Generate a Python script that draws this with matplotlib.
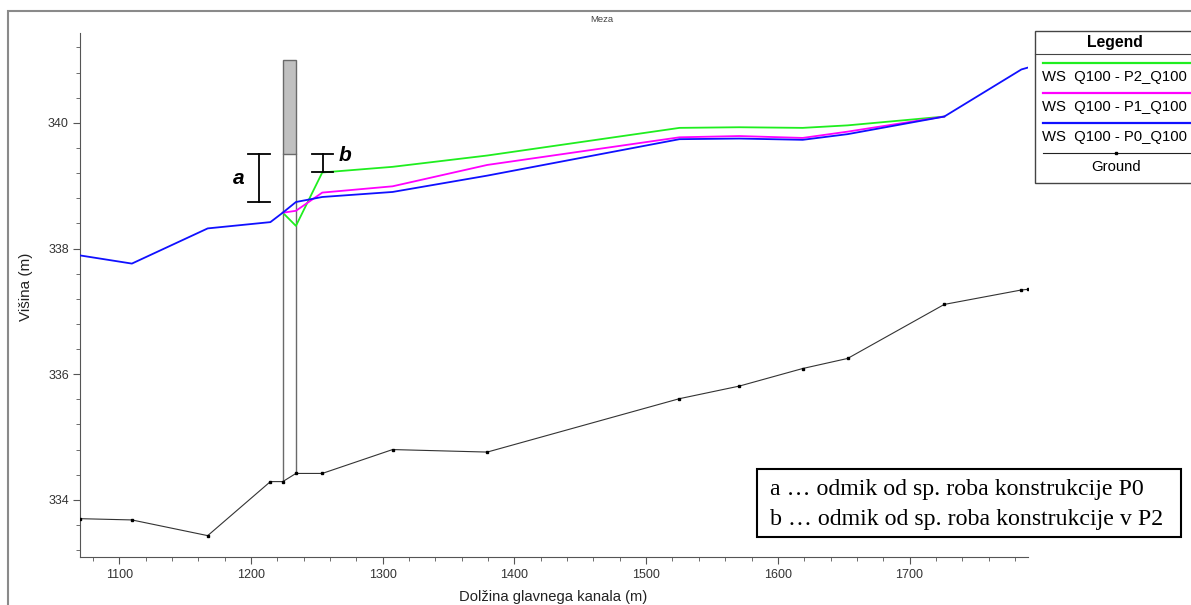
import matplotlib
matplotlib.use("Agg")
import matplotlib.pyplot as plt
from matplotlib.patches import Rectangle
from matplotlib.lines import Line2D
from matplotlib.ticker import MultipleLocator

# ground profile (station, elevation)
ground_x = [1070, 1109.4, 1167, 1214.6, 1224, 1234, 1254, 1307.4, 1379.3,
            1525.3, 1570.7, 1618.9, 1653, 1726.4, 1785, 1790]
ground_y = [333.70, 333.68, 333.43, 334.29, 334.29, 334.42, 334.42, 334.80, 334.76,
            335.61, 335.81, 336.09, 336.25, 337.11, 337.34, 337.35]

# water surface P0 (blue)
p0_x = [1070, 1109.4, 1167, 1214.6, 1224, 1234, 1254, 1307.4, 1379.3,
        1525.3, 1570.7, 1618.9, 1653, 1726.4, 1785, 1790]
p0_y = [337.89, 337.76, 338.32, 338.42, 338.57, 338.74, 338.82, 338.90, 339.16,
        339.74, 339.75, 339.73, 339.82, 340.10, 340.85, 340.88]

# water surface P1 (magenta)
p1_x = [1224, 1234, 1254, 1307.4, 1379.3, 1525.3, 1570.7, 1618.9, 1653, 1726.4]
p1_y = [338.57, 338.60, 338.89, 338.99, 339.33, 339.77, 339.79, 339.76, 339.86, 340.10]

# water surface P2 (green)
p2_x = [1224, 1234, 1254, 1307.4, 1379.3, 1525.3, 1570.7, 1618.9, 1653, 1726.4]
p2_y = [338.57, 338.36, 339.21, 339.30, 339.48, 339.92, 339.93, 339.92, 339.96, 340.10]

# bridge
bridge_left, bridge_right = 1224, 1234
deck_low, deck_high = 339.5, 341.0
ground_left, ground_right = 334.29, 334.42

# dimension marks a and b
a_x, a_low, a_high = 1206, 338.74, 339.5
b_x, b_low, b_high = 1254.4, 339.21, 339.5

series_labels = ["WS  Q100 - P2_Q100", "WS  Q100 - P1_Q100", "WS  Q100 - P0_Q100", "Ground"]
series_colors = ["#1fee1f", "#ff00ff", "#1010ff", "#222222"]
note_lines = ["a \u2026 odmik od sp. roba konstrukcije P0",
              "b \u2026 odmik od sp. roba konstrukcije v P2"]

W, H = 1191, 605
plt.rcParams["font.family"] = ["Liberation Sans", "DejaVu Sans"]
fig = plt.figure(figsize=(W / 100, H / 100), dpi=100)


def fx(px):
    return px / W


def fy(py):
    return 1 - py / H


ax = fig.add_axes([fx(80), fy(557), fx(1028) - fx(80), fy(33) - fy(557)])
ax.set_xlim(1070, 1790)
ax.set_ylim(333.09, 341.43)

# bridge deck and opening
ax.add_patch(Rectangle((bridge_left, deck_low), bridge_right - bridge_left,
                       deck_high - deck_low, facecolor="#c0c0c0",
                       edgecolor="#6a6a6a", lw=1, zorder=2))
ax.plot([bridge_left, bridge_left], [ground_left, deck_low], color="#6a6a6a", lw=1, zorder=2)
ax.plot([bridge_right, bridge_right], [ground_right, deck_low], color="#6a6a6a", lw=1, zorder=2)

ax.plot(ground_x, ground_y, color="#333333", lw=0.8, marker="s", ms=1.5,
        mfc="black", mec="black", zorder=3)
ax.plot(p2_x, p2_y, color=series_colors[0], lw=1.3, zorder=4)
ax.plot(p1_x, p1_y, color=series_colors[1], lw=1.3, zorder=5)
ax.plot(p0_x, p0_y, color=series_colors[2], lw=1.3, zorder=6)

# dimension bars
for x0, lo, hi, half in [(a_x, a_low, a_high, 8.5), (b_x, b_low, b_high, 8)]:
    ax.plot([x0, x0], [lo, hi], color="black", lw=1.3, zorder=7)
    ax.plot([x0 - half, x0 + half], [lo, lo], color="black", lw=1.3, zorder=7)
    ax.plot([x0 - half, x0 + half], [hi, hi], color="black", lw=1.3, zorder=7)
ax.text(a_x - 11, (a_low + a_high) / 2, "a", fontsize=15, fontweight="bold",
        style="italic", ha="right", va="center")
ax.text(b_x + 12, b_high - 0.02, "b", fontsize=15, fontweight="bold",
        style="italic", ha="left", va="center")

# axes styling
for s in ["top", "right"]:
    ax.spines[s].set_visible(False)
for s in ["left", "bottom"]:
    ax.spines[s].set_color("#555555")
ax.xaxis.set_major_locator(MultipleLocator(100))
ax.xaxis.set_minor_locator(MultipleLocator(20))
ax.yaxis.set_major_locator(MultipleLocator(2))
ax.yaxis.set_minor_locator(MultipleLocator(0.4))
ax.tick_params(which="major", length=5, color="#555555", labelsize=9,
               labelcolor="#333333")
ax.tick_params(axis="x", which="major", pad=4)
ax.tick_params(axis="y", which="major", pad=3)
ax.tick_params(which="minor", length=3, color="#555555")
fig.text(fx(553), fy(597), "Dol\u017eina glavnega kanala (m)", fontsize=10.6,
         color="#222222", ha="center", va="center")
fig.text(fx(26), fy(287), "Vi\u0161ina (m)", fontsize=11, color="#222222",
         rotation=90, ha="center", va="center")

# outer frame and title
fig.add_artist(Rectangle((fx(8), -0.1), 1.2, fy(11) + 0.1, transform=fig.transFigure,
                         fill=False, edgecolor="#8a8a8a", lw=1.5))
fig.text(fx(602), fy(19), "Meza", fontsize=6.8, color="#444444", ha="center", va="center")

# legend panel
fig.add_artist(Rectangle((fx(1035), fy(183)), 1.0, fy(31) - fy(183), transform=fig.transFigure,
                         facecolor="white", edgecolor="#444444", lw=1))
fig.add_artist(Line2D([fx(1035), 1.0], [fy(54), fy(54)], color="#444444", lw=0.8))
fig.text(fx(1115), fy(42), "Legend", fontsize=11.3, fontweight="bold", ha="center", va="center")
line_rows = [63, 93, 123, 153]
text_rows = [77, 107, 137, 167]
for i, lab in enumerate(series_labels):
    fig.add_artist(Line2D([fx(1043), fx(1190)], [fy(line_rows[i])] * 2,
                          color=series_colors[i], lw=1.6 if i < 3 else 0.8))
    if i < 3:
        fig.text(fx(1042), fy(text_rows[i]), lab, fontsize=10.7, ha="left", va="center")
    else:
        fig.add_artist(Line2D([fx(1116)], [fy(line_rows[i])], marker="s", ms=1.6,
                              color="black"))
        fig.text(fx(1116), fy(text_rows[i]), lab, fontsize=10.7, ha="center", va="center")

# note box
fig.add_artist(Rectangle((fx(757), fy(537)), fx(1181) - fx(757), fy(469) - fy(537),
                         transform=fig.transFigure, facecolor="white",
                         edgecolor="black", lw=1.5))
for i, t in enumerate(note_lines):
    fig.text(fx(770), fy(489 + 30 * i), t, fontsize=17.2, family="Liberation Serif",
             ha="left", va="center")

fig.savefig("out.png", dpi=100)
